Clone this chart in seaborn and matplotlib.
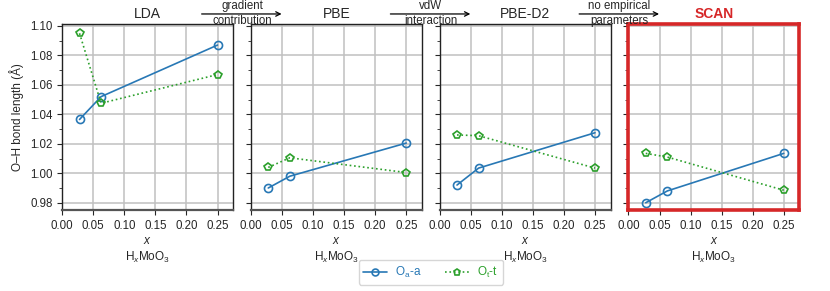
import numpy as np
import pandas as pd
import matplotlib
import matplotlib.pyplot as plt
import seaborn as sns

matplotlib.use('Agg')

# data
x_vals = [0.0278, 0.0625, 0.25]
methods = ['LDA', 'PBE', 'PBE-D2', 'SCAN']
oa_a = {
    'LDA': [1.0365, 1.052, 1.087],
    'PBE': [0.990, 0.998, 1.0205],
    'PBE-D2': [0.992, 1.0035, 1.0275],
    'SCAN': [0.980, 0.988, 1.0135],
}
ot_t = {
    'LDA': [1.095, 1.0475, 1.067],
    'PBE': [1.004, 1.0105, 1.0005],
    'PBE-D2': [1.026, 1.0255, 1.0035],
    'SCAN': [1.0135, 1.011, 0.9885],
}
arrow_texts = ['gradient\ncontribution', 'vdW\ninteraction', 'no empirical\nparameters']

rows = []
for m in methods:
    for xv, a, t in zip(x_vals, oa_a[m], ot_t[m]):
        rows.append({'method': m, 'x': xv, 'site': 'Oa-a', 'y': a})
        rows.append({'method': m, 'x': xv, 'site': 'Ot-t', 'y': t})
df = pd.DataFrame(rows)

sns.set_style('ticks')
plt.rcParams['font.family'] = ['Liberation Sans', 'DejaVu Sans']
plt.rcParams['mathtext.fontset'] = 'custom'
plt.rcParams['mathtext.rm'] = 'Liberation Sans'
plt.rcParams['mathtext.it'] = 'Liberation Sans:italic'

blue = '#2878b5'
green = '#2ca02c'

fig, axes = plt.subplots(1, 4, figsize=(8.3, 2.91), dpi=100, sharey=True)
fig.subplots_adjust(left=0.075, right=0.963, bottom=0.278, top=0.916, wspace=0.105)

for ax, m in zip(axes, methods):
    d = df[df['method'] == m]
    sns.lineplot(data=d[d['site'] == 'Oa-a'], x='x', y='y', ax=ax, color=blue,
                 marker='o', markersize=5.8, markerfacecolor='none', markeredgecolor=blue,
                 markeredgewidth=1.2, linewidth=1.2, label='O$_\\mathrm{a}$-a')
    sns.lineplot(data=d[d['site'] == 'Ot-t'], x='x', y='y', ax=ax, color=green,
                 marker='p', markersize=5.8, markerfacecolor='none', markeredgecolor=green,
                 markeredgewidth=1.2, linewidth=1.2, linestyle=':', label='O$_\\mathrm{t}$-t')
    ax.set_xlim(0, 0.275)
    ax.set_ylim(0.975, 1.101)
    ax.set_xticks([0, 0.05, 0.10, 0.15, 0.20, 0.25])
    ax.set_xticklabels(['0.00', '0.05', '0.10', '0.15', '0.20', '0.25'])
    ax.set_yticks(np.arange(0.98, 1.101, 0.02))
    ax.set_yticks(np.arange(0.98, 1.101, 0.01), minor=True)
    ax.yaxis.set_major_formatter(matplotlib.ticker.FormatStrFormatter('%.2f'))
    ax.grid(True, which='major', color='#c0c0c0', linewidth=1.1)
    ax.tick_params(axis='both', which='major', labelsize=8.3, length=3.5, width=0.8)
    ax.tick_params(axis='y', which='minor', length=2, width=0.6)
    ax.set_xlabel('$x$\nH$_x$MoO$_3$', fontsize=8.5, labelpad=2, linespacing=1.3)
    ax.set_ylabel('')
    for s in ax.spines.values():
        s.set_linewidth(1.0)
        s.set_color('#222222')
    ax.spines['bottom'].set_color('#555555')
    ax.spines['bottom'].set_linewidth(1.6)
    if ax.get_legend() is not None:
        ax.get_legend().remove()
    if m == 'SCAN':
        ax.set_title(m, fontsize=10, color='#d62728', fontweight='bold', pad=4.5)
        for s in ax.spines.values():
            s.set_color('#d62728')
            s.set_linewidth(2.6)
    else:
        ax.set_title(m, fontsize=10, pad=4.5)

axes[0].set_ylabel('O\u2013H bond length (\u00c5)', fontsize=8.5)

# arrows between panels
for i, txt in enumerate(arrow_texts):
    p1 = axes[i].get_position()
    p2 = axes[i + 1].get_position()
    xc = (p1.x1 + p2.x0) / 2
    top_txt, bot_txt = txt.split('\n')
    ya = 0.952
    fig.text(xc, ya + 0.006, top_txt, ha='center', va='bottom', fontsize=8.3)
    fig.text(xc, ya - 0.004, bot_txt, ha='center', va='top', fontsize=8.3)
    fig.patches.append(matplotlib.patches.FancyArrowPatch(
        (xc - 0.052, ya), (xc + 0.051, ya), transform=fig.transFigure,
        arrowstyle='->', mutation_scale=8, linewidth=0.9, color='black'))

handles, labels = axes[0].get_legend_handles_labels()
leg = fig.legend(handles, labels, loc='center', bbox_to_anchor=(0.519, 0.064), ncol=2,
                 fontsize=8.5, frameon=True, handlelength=2.0, columnspacing=2.0,
                 markerscale=0.85, borderpad=0.4, handletextpad=0.7)
leg.get_frame().set_edgecolor('#cccccc')
for t, c in zip(leg.get_texts(), [blue, green]):
    t.set_color(c)

fig.savefig('out.png', dpi=100)
